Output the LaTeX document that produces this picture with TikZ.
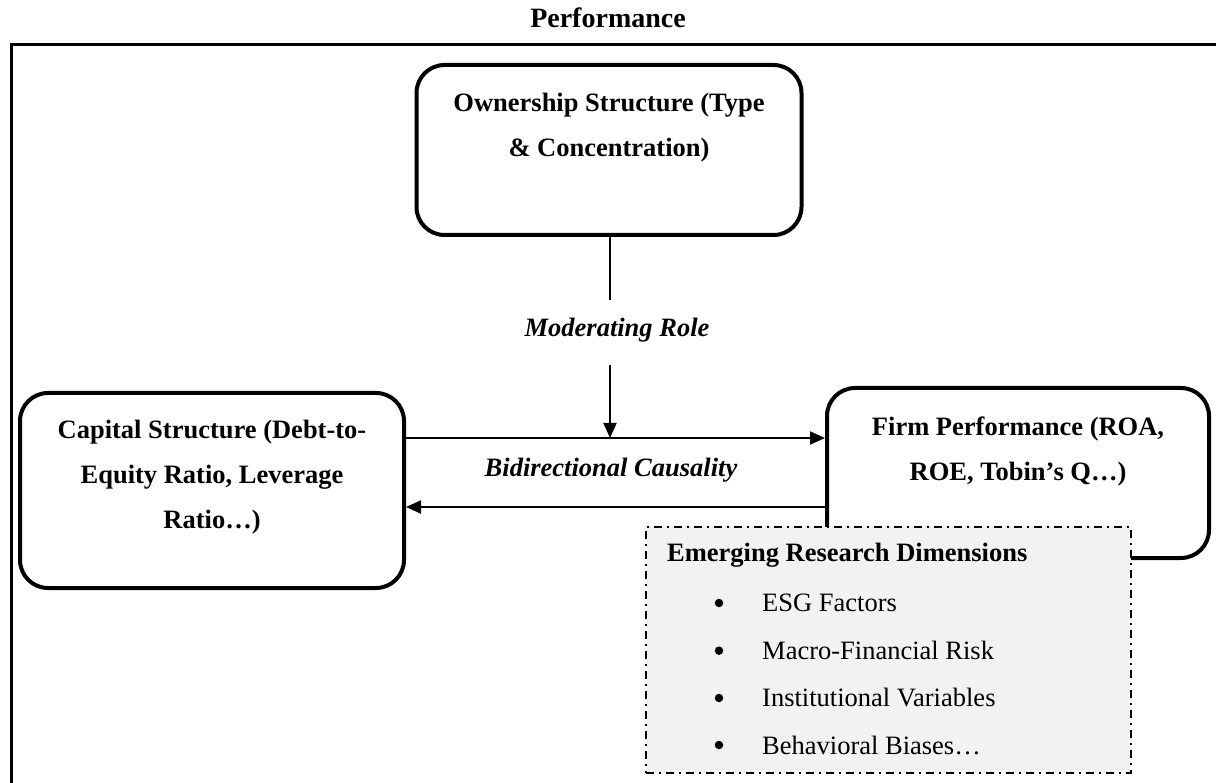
\documentclass[tikz,border=0pt]{standalone}
\usepackage{fontspec}
\setmainfont{Liberation Serif}
\usetikzlibrary{arrows.meta}
\begin{document}
\begin{tikzpicture}[x=1pt,y=-1pt,
  box/.style={draw, line width=4pt, rounded corners=28pt, inner sep=0pt},
  boxtext/.style={font=\fontsize{26.5}{45}\selectfont\bfseries, align=center, inner sep=0pt},
  lbl/.style={font=\fontsize{26.5}{32}\selectfont\bfseries\itshape, inner sep=0pt},
  conn/.style={line width=2pt},
  arr/.style={conn, -{Triangle[length=15pt,width=13pt]}},
  emerg/.style={draw, fill=black!5, line width=2pt, dash pattern=on 8pt off 5pt on 2pt off 5pt, inner sep=0pt},
  item/.style={font=\fontsize{26.5}{32}\selectfont, anchor=west, inner sep=0pt},
  dot/.style={circle, fill=black, inner sep=0pt, minimum size=8.5pt}
]
\useasboundingbox (0,0) rectangle (1216,783);

% title and frame
\node[font=\fontsize{28}{32}\selectfont\bfseries, inner sep=0pt] (title) at (608,18) {Performance};
\draw[line width=3pt] (11,783) -- (11,45) -- (1216,45);

% boxes
\node[box, minimum width=385pt, minimum height=170pt] (own) at (609,150) {};
\node[boxtext] (ownT) at (609,128) {Ownership Structure (Type\\\& Concentration)};

\node[box, minimum width=384pt, minimum height=195pt] (cap) at (212,490.5) {};
\node[boxtext] (capT) at (212,477) {Capital Structure (Debt-to-\\Equity Ratio, Leverage\\Ratio…)};

\node[box, minimum width=382pt, minimum height=170pt] (firm) at (1018,473) {};
\node[boxtext] (firmT) at (1018,451) {Firm Performance (ROA,\\ROE, Tobin’s Q…)};

% moderating connector
\node[lbl] (mod) at (617,330) {Moderating Role};
\coordinate (modTop) at (609.5,300);
\coordinate (modStart) at (610,365);
\coordinate (modEnd) at (610,438);
\draw[conn] (own.south -| modTop) -- (modTop);
\draw[arr] (modStart) -- (modEnd);

% bidirectional arrows
\draw[arr] (cap.east |- 0,438) -- (firm.west |- 0,438);
\draw[arr] (firm.west |- 0,507) -- (cap.east |- 0,507);
\node[lbl] (bid) at (611,470) {Bidirectional Causality};

% emerging research dimensions
\node[emerg, minimum width=485pt, minimum height=246pt] (em) at (888.5,650) {};
\node[font=\fontsize{26.5}{32}\selectfont\bfseries, anchor=west, inner sep=0pt] (emT) at (667,555) {Emerging Research Dimensions};
\foreach \y/\t [count=\i] in {603/ESG Factors, 650.7/Macro-Financial Risk, 698/Institutional Variables, 745/Behavioral Biases…}{
  \node[dot] (b\i) at (719,\y) {};
  \node[item] (it\i) at (762,\y) {\t};
}
\end{tikzpicture}
\end{document}
